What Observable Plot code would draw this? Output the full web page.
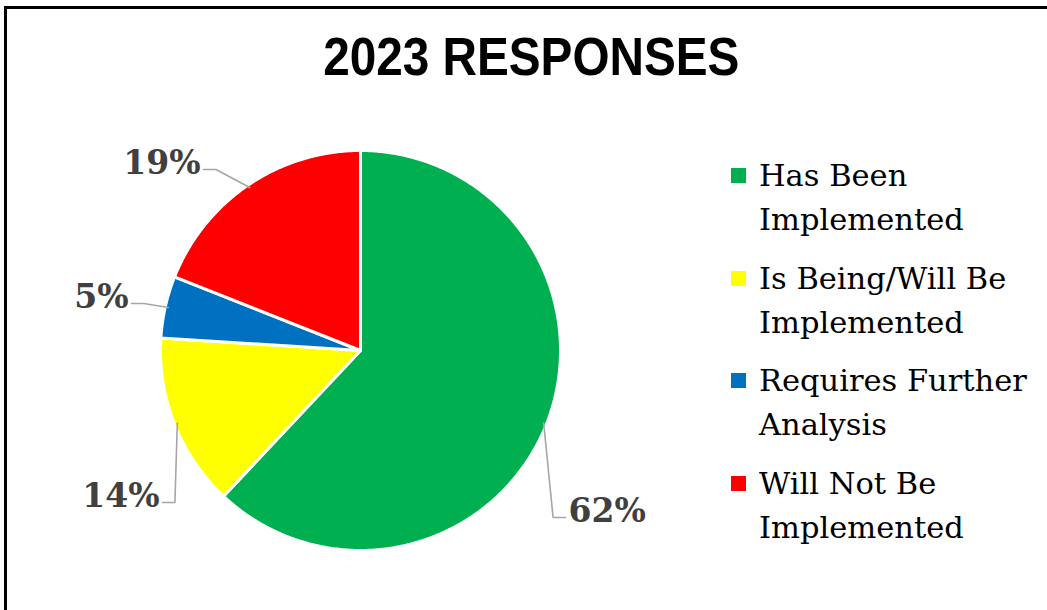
<!DOCTYPE html>
<html>
<head>
<meta charset="utf-8">
<script src="https://cdn.jsdelivr.net/npm/d3@7"></script>
<script src="https://cdn.jsdelivr.net/npm/@observablehq/plot@0.6"></script>
<style>
  html, body { margin: 0; padding: 0; background: #fff; overflow: hidden; }
  #wrap { position: relative; width: 1047px; height: 610px; overflow: hidden; }
  #frame { position: absolute; left: 4px; top: 6px; width: 1100px; height: 700px;
           border-left: 3px solid #000; border-top: 3px solid #000; }
  #title { position: absolute; left: 8px; top: 30px; width: 1047px; text-align: center;
           font-family: "Liberation Sans", Arial, sans-serif; font-weight: bold; font-size: 53px;
           line-height: 53px; color: #000; }
  #title span { display: inline-block; transform: scaleX(0.9); }
  #chart { position: absolute; left: 0; top: 0; }
  #legend { position: absolute; left: 731px; top: 154px; width: 320px;
            font-family: "DejaVu Serif", serif; font-size: 30.5px; line-height: 44px; color: #000; }
  .item { position: relative; padding-left: 28px; width: 300px; margin-bottom: 14.5px; }
  .sw { position: absolute; left: 0; top: 14px; width: 15px; height: 15px; }
</style>
</head>
<body>
<div id="wrap">
  <div id="frame"></div>
  <div id="chart"></div>
  <div id="title"><span>2023 RESPONSES</span></div>
  <div id="legend"></div>
</div>
<script>
// ---- data ----
const categories = ["Has Been Implemented", "Is Being/Will Be Implemented", "Requires Further Analysis", "Will Not Be Implemented"];
const values = [62, 14, 5, 19];
const colors = ["#00b050", "#ffff00", "#0070c0", "#ff0000"];
const labels = ["62%", "14%", "5%", "19%"];

// ---- label layout (leader end points, in pie-radius units) ----
const labelEnds = {
  "Has Been Implemented": [1.025, -0.835],
  "Is Being/Will Be Implemented": [-0.99, -0.76],
  "Requires Further Analysis": [-1.145, 0.235],
  "Will Not Be Implemented": [-0.785, 0.905]
};

const arcs = d3.pie().sort(null).startAngle(0).endAngle(2 * Math.PI)(values);

const slices = arcs.map((a, i) => {
  const pts = [{x: 0, y: 0}];
  const n = Math.max(4, Math.ceil((a.endAngle - a.startAngle) / (Math.PI / 360)));
  for (let k = 0; k <= n; k++) {
    const t = a.startAngle + (a.endAngle - a.startAngle) * k / n;
    pts.push({x: Math.sin(t), y: Math.cos(t)});
  }
  pts.push({x: 0, y: 0});
  return {category: categories[i], color: colors[i], points: pts};
});

const leaders = [];
const labelRows = [];
arcs.forEach((a, i) => {
  const mid = (a.startAngle + a.endAngle) / 2;
  const px = 0.985 * Math.sin(mid), py = 0.985 * Math.cos(mid);
  const [ex, ey] = labelEnds[categories[i]];
  const side = ex < 0 ? -1 : 1;
  const elbowX = ex - side * 0.062;
  leaders.push({k: i, x: px, y: py}, {k: i, x: elbowX, y: ey}, {k: i, x: ex, y: ey});
  labelRows.push({x: ex, y: ey, text: labels[i], anchor: side < 0 ? "end" : "start"});
});

const marks = [];
slices.forEach(s => {
  marks.push(Plot.line(s.points, {x: "x", y: "y", fill: s.color, stroke: "#ffffff", strokeWidth: 3, strokeLinejoin: "round", curve: "linear"}));
});
marks.push(Plot.line(leaders, {x: "x", y: "y", z: "k", stroke: "#a6a6a6", strokeWidth: 1.6}));
["start", "end"].forEach(anchor => {
  const rows = labelRows.filter(r => r.anchor === anchor);
  marks.push(Plot.text(rows, {
    x: "x", y: "y", text: "text", textAnchor: anchor, dx: anchor === "end" ? -3 : 3, dy: 4,
    lineAnchor: "bottom", fontFamily: "DejaVu Serif", fontWeight: "bold", fontSize: 33, fill: "#404040"
  }));
});

const plot = Plot.plot({
  width: 1047,
  height: 610,
  margin: 0,
  x: {domain: [-1, 1], range: [160, 560], axis: null},
  y: {domain: [-1, 1], range: [550, 150], axis: null},
  style: {background: "transparent", overflow: "visible"},
  marks
});
document.getElementById("chart").appendChild(plot);

// ---- legend ----
const legendLines = {
  "Has Been Implemented": ["Has Been", "Implemented"],
  "Is Being/Will Be Implemented": ["Is Being/Will Be", "Implemented"],
  "Requires Further Analysis": ["Requires Further", "Analysis"],
  "Will Not Be Implemented": ["Will Not Be", "Implemented"]
};
const legend = document.getElementById("legend");
categories.forEach((c, i) => {
  const item = document.createElement("div");
  item.className = "item";
  const sw = document.createElement("div");
  sw.className = "sw";
  sw.style.background = colors[i];
  item.appendChild(sw);
  legendLines[c].forEach((line, j) => {
    if (j) item.appendChild(document.createElement("br"));
    item.appendChild(document.createTextNode(line));
  });
  legend.appendChild(item);
});
</script>
</body>
</html>
